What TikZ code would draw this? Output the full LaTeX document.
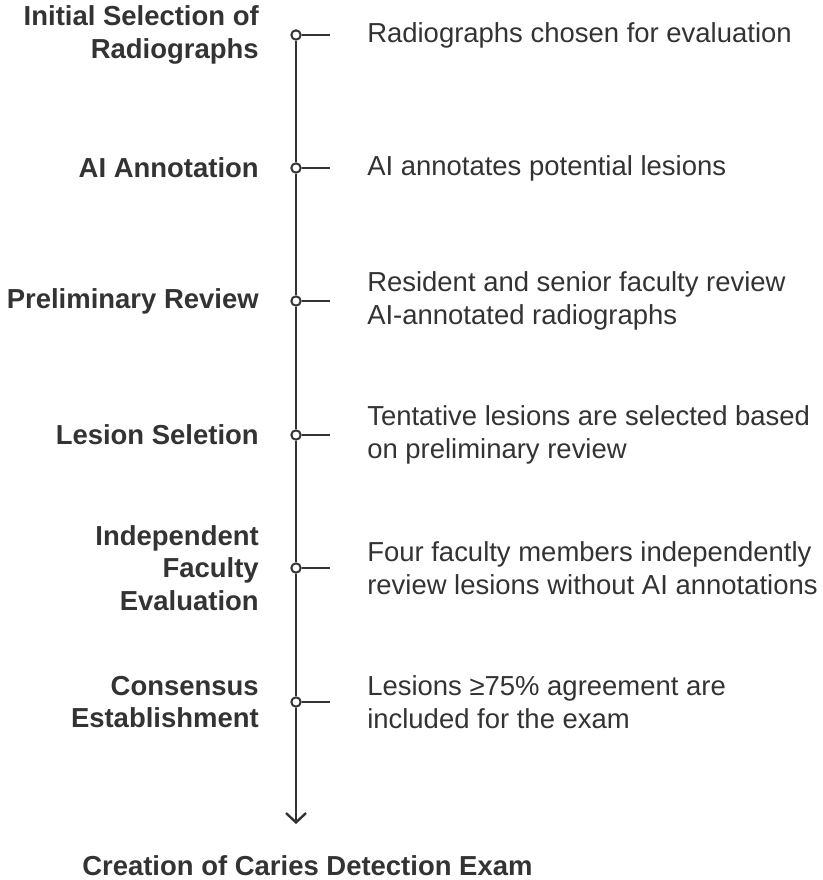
\documentclass[tikz,border=0pt]{standalone}
\usepackage{fontspec}
\setmainfont{Liberation Sans}
\usepackage{xcolor}
\usetikzlibrary{arrows.meta, positioning}
\definecolor{ink}{HTML}{333333}
\tikzstyle{dot} = [draw=ink, fill=white, circle, line width=1.5pt, minimum size=7pt, inner sep=0pt]
\tikzstyle{stage} = [anchor=east, inner sep=0pt, align=right, text=ink, font=\bfseries\fontsize{20.6}{24.4}\selectfont]
\tikzstyle{desc} = [anchor=west, inner sep=0pt, align=left, text=ink, font=\fontsize{20.6}{24.4}\selectfont]
\tikzstyle{axis} = [draw=ink, line width=1.8pt]

\begin{document}
\begin{tikzpicture}[x=0.75pt, y=-0.75pt, >={Straight Barb[length=7pt, width=15pt]}]
    % 画布
    \useasboundingbox (0,0) rectangle (822,880);

    % 时间轴上的点
    \node [dot] (d1) at (296,35) {};
    \node [dot] (d2) at (296,168) {};
    \node [dot] (d3) at (296,301) {};
    \node [dot] (d4) at (296,435) {};
    \node [dot] (d5) at (296,568) {};
    \node [dot] (d6) at (296,702) {};
    \coordinate (end) at (296,824);

    % 刻度端点
    \coordinate (k1) at (330,35);
    \coordinate (k2) at (330,168);
    \coordinate (k3) at (330,301);
    \coordinate (k4) at (330,435);
    \coordinate (k5) at (330,568);
    \coordinate (k6) at (330,702);

    % 阶段名称
    \node [stage] (s1) at (259,35) {Initial Selection of\\Radiographs};
    \node [stage] (s2) at (259,168) {AI Annotation};
    \node [stage] (s3) at (259,301) {Preliminary Review};
    \node [stage] (s4) at (259,435) {Lesion Seletion};
    \node [stage] (s5) at (259,568) {Independent\\Faculty\\Evaluation};
    \node [stage] (s6) at (259,702) {Consensus\\Establishment};

    % 说明文字
    \node [desc] (t1) at (367,35) {Radiographs chosen for evaluation};
    \node [desc] (t2) at (367,168) {AI annotates potential lesions};
    \node [desc] (t3) at (367,301) {Resident and senior faculty review\\AI-annotated radiographs};
    \node [desc] (t4) at (367,435) {Tentative lesions are selected based\\on preliminary review};
    \node [desc] (t5) at (367,568) {Four faculty members independently\\review lesions without AI annotations};
    \node [desc] (t6) at (367,702) {Lesions ≥75\% agreement are\\included for the exam};

    \node [anchor=base west, inner sep=0pt, text=ink, font=\bfseries\fontsize{20.6}{24.4}\selectfont] (final) at (82,875) {Creation of Caries Detection Exam};

    % 轴线
    \draw [axis] (d1.south) -- (d2.north);
    \draw [axis] (d2.south) -- (d3.north);
    \draw [axis] (d3.south) -- (d4.north);
    \draw [axis] (d4.south) -- (d5.north);
    \draw [axis] (d5.south) -- (d6.north);
    \draw [axis, ->] (d6.south) -- (end);

    % 刻度
    \draw [axis] (d1.east) -- (k1);
    \draw [axis] (d2.east) -- (k2);
    \draw [axis] (d3.east) -- (k3);
    \draw [axis] (d4.east) -- (k4);
    \draw [axis] (d5.east) -- (k5);
    \draw [axis] (d6.east) -- (k6);
\end{tikzpicture}
\end{document}
